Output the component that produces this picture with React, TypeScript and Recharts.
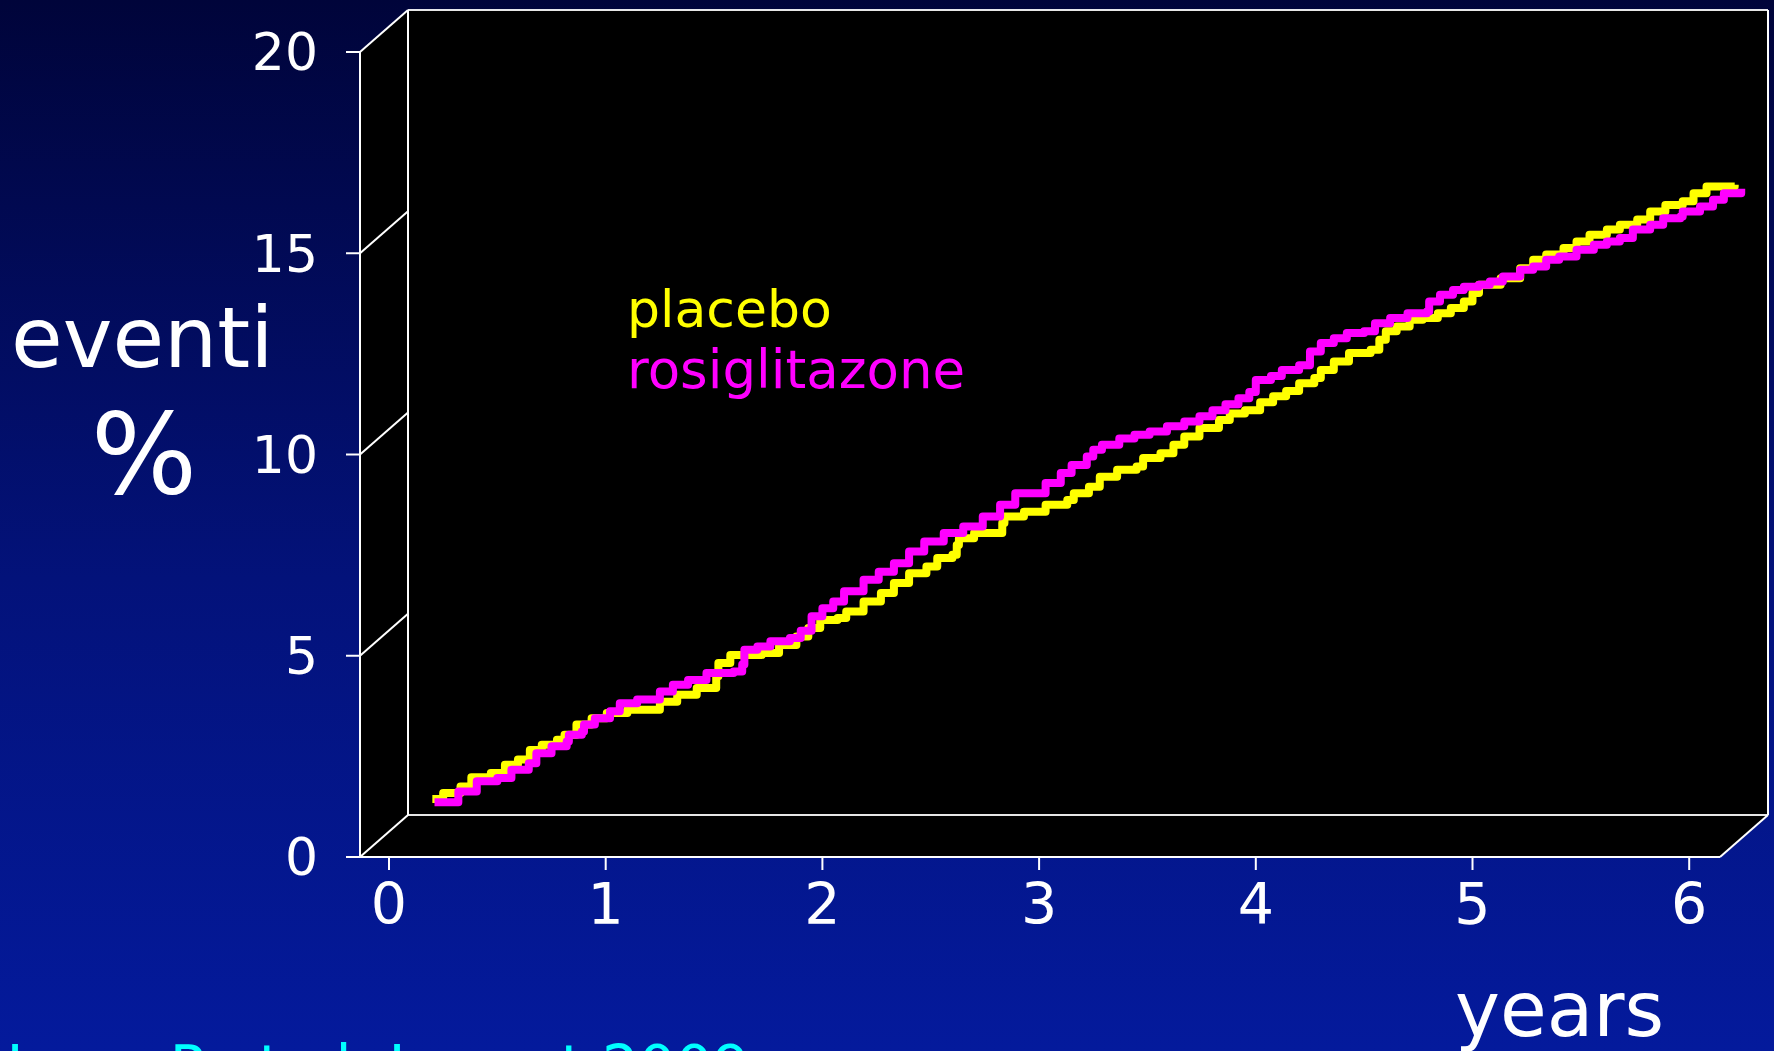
import { LineChart, Line, XAxis, YAxis, CartesianGrid } from 'recharts';

// x axis (years) and y axis (% events) ticks
const yearTicks = [0, 1, 2, 3, 4, 5, 6];
const pctTicks = [0, 5, 10, 15, 20];

// cumulative events, placebo arm
const placeboYears = [
  0.2, 0.25, 0.33, 0.38, 0.47, 0.535, 0.595, 0.65, 0.705, 0.775, 0.81, 0.865, 0.935, 1.005, 1.1,
  1.25, 1.33, 1.42, 1.51, 1.52, 1.575, 1.72, 1.8, 1.88, 1.935, 1.99, 2.07, 2.11, 2.19, 2.27,
  2.33, 2.4, 2.48, 2.53, 2.6, 2.62, 2.63, 2.7, 2.83, 2.84, 2.93, 3.03, 3.13, 3.16, 3.23,
  3.28, 3.36, 3.45, 3.48, 3.56, 3.62, 3.67, 3.74, 3.83, 3.88, 3.95, 4.02, 4.08, 4.14, 4.2,
  4.27, 4.3, 4.36, 4.43, 4.53, 4.57, 4.6, 4.65, 4.71, 4.77, 4.84, 4.9, 4.96, 5.0, 5.03,
  5.13, 5.22, 5.28, 5.34, 5.42, 5.48, 5.54, 5.62, 5.68, 5.76, 5.82, 5.89, 5.97, 6.02, 6.08, 6.21,
];
const placeboPct = [
  1.44, 1.59, 1.75, 1.98, 2.09, 2.29, 2.42, 2.66, 2.79, 2.91, 3.04, 3.29, 3.45, 3.58, 3.66,
  3.86, 4.03, 4.2, 4.49, 4.82, 5.02, 5.07, 5.27, 5.48, 5.69, 5.89, 5.94, 6.1, 6.35, 6.56,
  6.81, 7.05, 7.22, 7.43, 7.51, 7.75, 7.92, 8.05, 8.3, 8.46, 8.58, 8.75, 8.87, 9.04, 9.2,
  9.45, 9.62, 9.7, 9.91, 10.03, 10.24, 10.45, 10.66, 10.86, 11.02, 11.1, 11.3, 11.45, 11.58, 11.77,
  11.9, 12.1, 12.31, 12.52, 12.6, 12.85, 13.06, 13.18, 13.35, 13.39, 13.51, 13.64, 13.8, 14.01, 14.22,
  14.38, 14.63, 14.84, 14.97, 15.13, 15.29, 15.46, 15.59, 15.71, 15.84, 16.04, 16.2, 16.29, 16.49, 16.66, 16.7,
];

// cumulative events, rosiglitazone arm
const rosiYears = [
  0.21, 0.32, 0.405, 0.5, 0.565, 0.645, 0.68, 0.75, 0.82, 0.83, 0.89, 0.9, 0.95, 1.02, 1.065,
  1.145, 1.25, 1.31, 1.38, 1.465, 1.59, 1.63, 1.64, 1.7, 1.76, 1.85, 1.9, 1.95, 2.0, 2.05,
  2.1, 2.19, 2.26, 2.33, 2.4, 2.47, 2.56, 2.65, 2.74, 2.82, 2.89, 3.03, 3.1, 3.15, 3.22,
  3.25, 3.29, 3.37, 3.44, 3.51, 3.59, 3.67, 3.74, 3.8, 3.86, 3.92, 3.97, 4.0, 4.07, 4.12,
  4.2, 4.25, 4.3, 4.36, 4.42, 4.5, 4.55, 4.62, 4.7, 4.79, 4.8, 4.85, 4.91, 4.96, 5.03,
  5.08, 5.14, 5.22, 5.28, 5.34, 5.4, 5.48, 5.56, 5.62, 5.68, 5.74, 5.82, 5.88, 5.96, 5.97,
  6.05, 6.11, 6.16, 6.24,
];
const rosiPct = [
  1.36, 1.63, 1.88, 1.96, 2.17, 2.33, 2.58, 2.75, 2.87, 3.04, 3.12, 3.29, 3.45, 3.62, 3.82,
  3.91, 4.11, 4.28, 4.4, 4.57, 4.61, 4.78, 5.15, 5.23, 5.36, 5.44, 5.62, 5.98, 6.18, 6.35,
  6.6, 6.89, 7.09, 7.3, 7.59, 7.84, 8.05, 8.21, 8.46, 8.75, 9.04, 9.29, 9.54, 9.74, 9.95,
  10.12, 10.24, 10.4, 10.49, 10.57, 10.7, 10.82, 10.95, 11.1, 11.25, 11.4, 11.55, 11.85, 11.95, 12.1,
  12.22, 12.56, 12.77, 12.89, 13.02, 13.06, 13.26, 13.39, 13.51, 13.55, 13.8, 13.97, 14.09, 14.17, 14.22,
  14.3, 14.42, 14.59, 14.67, 14.84, 14.92, 15.09, 15.21, 15.29, 15.38, 15.59, 15.71, 15.87, 15.91, 16.04,
  16.16, 16.33, 16.49, 16.6,
];

const placebo = placeboYears.map((t, i) => ({ t, v: placeboPct[i] }));
const rosiglitazone = rosiYears.map((t, i) => ({ t, v: rosiPct[i] }));

const W = 1774;
const H = 1051;
const FONT = '"DejaVu Sans", Verdana, sans-serif';

// front plane of the 3d box
const FL = 360;
const FR = 1720;
const FT = 52;
const FB = 857;
// depth offset to the back wall
const DX = 48;
const DY = 42;
const BL = FL + DX;
const BR = FR + DX;
const BT = FT - DY;
const BB = FB - DY;

// year scale: gap before 0 and pixels per year; curves run a little past 6
const X_PAD = 29;
const YEAR_PX = 216.7;
const X_MAX = 6.25;
const PLOT_R = FL + X_PAD + X_MAX * YEAR_PX;

const Y_AXIS_W = 60;
const X_AXIS_H = 60;

const yFront = (v: number) => FB - (v / 20) * (FB - FT);

export default function App() {
  return (
    <div
      style={{
        position: 'fixed',
        left: 0,
        top: 0,
        width: W,
        height: H,
        overflow: 'hidden',
        background: 'linear-gradient(180deg, #00043a 0%, #03127a 55%, #041a9c 100%)',
        fontFamily: FONT,
      }}
    >
      {/* box walls and floor */}
      <svg width={W} height={H} style={{ position: 'absolute', left: 0, top: 0 }}>
        <rect x={BL} y={BT} width={BR - BL} height={BB - BT} fill="#000" />
        <polygon points={`${FL},${FT} ${BL},${BT} ${BL},${BB} ${FL},${FB}`} fill="#000" />
        <polygon points={`${FL},${FB} ${BL},${BB} ${BR},${BB} ${FR},${FB}`} fill="#000" />
        {pctTicks.map((v) => (
          <line
            key={v}
            x1={FL}
            y1={yFront(v)}
            x2={BL}
            y2={yFront(v) - DY}
            stroke="#fff"
            strokeWidth={2}
          />
        ))}
        <line x1={FL} y1={FB} x2={FR} y2={FB} stroke="#fff" strokeWidth={2} />
        <line x1={FR} y1={FB} x2={BR} y2={BB} stroke="#fff" strokeWidth={2} />
        <line x1={BL} y1={BT} x2={BL} y2={BB} stroke="#fff" strokeWidth={2} />
        <line x1={BR} y1={BT} x2={BR} y2={BB} stroke="#fff" strokeWidth={2} />
      </svg>

      {/* gridlines on the back wall */}
      <div style={{ position: 'absolute', left: 0, top: 0 }}>
        <LineChart
          width={W}
          height={H}
          data={placebo}
          margin={{ top: BT, left: BL, right: W - BR, bottom: H - BB }}
        >
          <CartesianGrid vertical={false} stroke="#fff" strokeWidth={2} strokeOpacity={0.9} />
          <XAxis type="number" dataKey="t" domain={[0, X_MAX]} hide />
          <YAxis type="number" domain={[0, 20]} ticks={pctTicks} hide />
        </LineChart>
      </div>

      {/* axes and curves */}
      <div style={{ position: 'absolute', left: 0, top: 0 }}>
        <LineChart
          width={W}
          height={H}
          margin={{ top: FT, left: FL - Y_AXIS_W, right: W - PLOT_R, bottom: H - FB - X_AXIS_H }}
        >
          <XAxis
            type="number"
            dataKey="t"
            domain={[0, X_MAX]}
            ticks={yearTicks}
            padding={{ left: X_PAD, right: 0 }}
            height={X_AXIS_H}
            tickSize={13}
            tickMargin={14}
            axisLine={false}
            tickLine={{ stroke: '#fff', strokeWidth: 2 }}
            tick={{ fill: '#fff', fontSize: 57, fontFamily: FONT }}
          />
          <YAxis
            type="number"
            domain={[0, 20]}
            ticks={pctTicks}
            width={Y_AXIS_W}
            tickSize={14}
            tickMargin={28}
            axisLine={{ stroke: '#fff', strokeWidth: 2 }}
            tickLine={{ stroke: '#fff', strokeWidth: 2 }}
            tick={{ fill: '#fff', fontSize: 52, fontFamily: FONT }}
          />
          <Line
            data={placebo}
            dataKey="v"
            type="stepAfter"
            stroke="#ffff00"
            strokeWidth={8}
            strokeLinejoin="round"
            dot={false}
            isAnimationActive={false}
          />
          <Line
            data={rosiglitazone}
            dataKey="v"
            type="stepAfter"
            stroke="#ff00ff"
            strokeWidth={8}
            strokeLinejoin="round"
            dot={false}
            isAnimationActive={false}
          />
        </LineChart>
      </div>

      {/* titles, legend, source */}
      <svg width={W} height={H} style={{ position: 'absolute', left: 0, top: 0 }} fontFamily={FONT}>
        <text x={11} y={367} fontSize={84} fill="#fff">eventi</text>
        <text x={144} y={493} fontSize={112} fill="#fff" textAnchor="middle">%</text>
        <text x={1455} y={1036} fontSize={76} fill="#fff">years</text>
        <text x={627} y={327} fontSize={52} fill="#ffff00">placebo</text>
        <text x={627} y={388} fontSize={53} fill="#ff00ff">rosiglitazone</text>
        <text x={-20} y={1087} fontSize={58} fill="#00ffff">Home P et al. Lancet 2009</text>
      </svg>
    </div>
  );
}
